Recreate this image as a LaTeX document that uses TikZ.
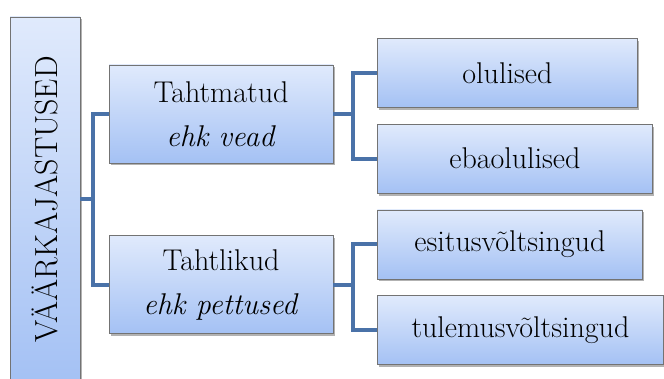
\documentclass[tikz,border=0pt]{standalone}
\usepackage{fontspec}
\usetikzlibrary{positioning,shadows}
\definecolor{boxtop}{HTML}{E0EAFC}
\definecolor{boxbot}{HTML}{A4C1F4}
\definecolor{linkblue}{HTML}{4A72A8}
\tikzset{
  box/.style={draw=gray!90!black, line width=0.8pt, top color=boxtop, bottom color=boxbot,
    drop shadow={shadow xshift=2pt, shadow yshift=-2.5pt, opacity=0.3, fill=black},
    inner sep=0pt, align=center, font=\fontsize{30}{44}\selectfont},
  midbox/.style={box, minimum width=224pt, minimum height=98pt},
  leafbox/.style={box, minimum height=69pt},
  link/.style={draw=linkblue, line width=4pt},
}
\begin{document}
\begin{tikzpicture}[x=1pt, y=1pt, node distance=16pt]
   \clip (0,0) rectangle (664,-379);
   % root column
   \node (root) [box, minimum width=70pt, minimum height=365pt] at (45,-199.5) {};
   \node (rootlabel) [rotate=90, font=\fontsize{32}{38}\selectfont] at (root) {VÄÄRKAJASTUSED};
   % middle level
   \node (tm) [midbox] at (221,-114) {Tahtmatud\\\textit{ehk vead}};
   \node (tl) [midbox, below=72pt of tm] {Tahtlikud\\\textit{ehk pettused}};
   % leaves
   \node (ol) [leafbox, minimum width=260pt, anchor=north west] at (377,-38) {olulised};
   \node (eb) [leafbox, minimum width=275pt, below=of ol.south west, anchor=north west] {ebaolulised};
   \node (es) [leafbox, minimum width=265pt, below=of eb.south west, anchor=north west] {esitusvõltsingud};
   \node (tu) [leafbox, minimum width=286pt, below=of es.south west, anchor=north west] {tulemusvõltsingud};
   % connectors
   \draw[link] (root.east) -- ++(13,0) |- (tm.west);
   \draw[link] (root.east) -- ++(13,0) |- (tl.west);
   \draw[link] (tm.east) -- ++(20,0) |- (ol.west);
   \draw[link] (tm.east) -- ++(20,0) |- (eb.west);
   \draw[link] (tl.east) -- ++(20,0) |- (es.west);
   \draw[link] (tl.east) -- ++(20,0) |- (tu.west);
  \end{tikzpicture}
\end{document}
